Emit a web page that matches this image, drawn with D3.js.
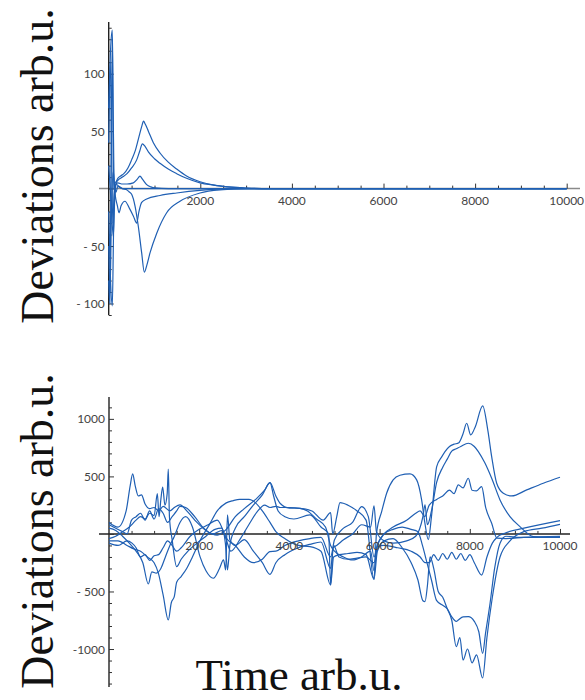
<!DOCTYPE html>
<html>
<head>
<meta charset="utf-8">
<script src="https://cdn.jsdelivr.net/npm/d3@7"></script>
<style>
  html, body { margin: 0; padding: 0; background: #fff; }
  svg { display: block; }
</style>
</head>
<body>
<svg id="chart" width="585" height="700"></svg>
<script>
// ---------------- DATA ----------------
const xMajorTicks = [2000, 4000, 6000, 8000, 10000];
const xTickLabels = ["2000", "4000", "6000", "8000", "10000"];
const topYMajor = [100, 50, -50, -100];
const topYLabels = ["100", "50", "- 50", "- 100"];
const bottomYMajor = [1000, 500, -500, -1000];
const bottomYLabels = ["1000", "500", "- 500", "-1000"];
const yAxisTitle = "Deviations arb.u.";
const xAxisTitle = "Time arb.u.";

// top panel series: [time, deviation]
const top1 = [[0,40],[40,120],[79,138],[100,60],[125,-5],[160,5],[200,9],[260,11],[330,13],[420,18],[500,25],[580,33],[660,45],[720,54],[760,58.7],[800,56],[866,50],[975,40],[1120,31],[1300,23],[1484,17],[1700,11],[1994,6],[2300,3],[2600,1.5],[3000,0.5],[3500,0],[10000,0]];
const top2 = [[0,-20],[40,-80],[79,-102],[105,-40],[130,5],[170,6],[220,8],[300,10],[400,13],[500,18],[611,25],[680,33],[735,39],[790,37],[866,32],[1000,26],[1120,22],[1300,17],[1484,13],[1700,9],[1994,5],[2300,3],[2600,1.5],[3000,0.5],[3500,0],[10000,0]];
const top3 = [[0,20],[50,-10],[100,-41.6],[130,-10],[160,4],[200,5],[300,4],[400,4],[538,5],[620,8],[683,10.8],[740,8],[829,3.5],[920,1.5],[1011,0.6],[1300,0],[10000,0]];
const top4 = [[0,70],[35,110],[60,40],[90,-30],[120,-5],[160,4],[220,2],[300,0],[392,-1],[450,-3],[501,-5],[574,-15],[647,-33],[720,-56],[778,-72.7],[830,-67],[902,-56],[1047,-39],[1266,-21],[1557,-11],[1994,-3.8],[2500,-0.9],[3000,0],[10000,0]];
const top5 = [[0,-50],[30,-90],[60,-20],[100,15],[140,-5],[190,-15],[225,-21],[270,-15],[356,-11],[450,-17],[540,-24],[611,-30],[660,-20],[720,-12],[829,-9],[1120,-6],[1484,-3.8],[1994,-1.5],[2500,-0.3],[3000,0],[10000,0]];
const top6 = [[0,-80],[25,-100],[50,20],[79,130],[95,40],[120,0],[160,-3],[200,2],[300,0],[10000,0]];

// bottom panel series: [time, deviation]
const bot1 = [[0,100],[200,60],[380,200],[470,420],[525,522],[580,420],[650,330],[720,340],[800,260],[900,220],[1000,230],[1100,200],[1200,240],[1350,200],[1450,230],[1574,252],[1750,190],[1950,100],[2150,30],[2400,-10],[2600,40],[2800,150],[3000,220],[3250,300],[3450,380],[3570,446],[3700,330],[3792,267],[4000,225],[4234,223],[4500,200],[4750,120],[4914,185],[4960,0],[5050,150],[5122,272],[5300,250],[5500,200],[5700,120],[5876,-394],[5930,0],[6050,200],[6156,354],[6300,470],[6451,510],[6674,522],[6822,470],[6932,296],[7005,93],[7080,-50],[7150,150],[7266,585],[7380,672],[7450,716],[7550,760],[7650,780],[7750,790],[7850,870],[7931,962],[8020,861],[8120,930],[8286,1113],[8400,900],[8485,672],[8596,441],[8743,354],[8929,330],[9262,383],[9630,441],[10000,493]];
const bot2 = [[0,-40],[150,-20],[300,20],[450,60],[600,120],[700,150],[800,130],[900,180],[1000,160],[1072,350],[1110,150],[1150,300],[1190,408],[1240,250],[1290,350],[1315,563],[1340,150],[1400,-50],[1500,-284],[1600,-220],[1750,-150],[1950,-80],[2150,-20],[2350,40],[2500,50],[2580,-80],[2627,-313],[2680,-100],[2800,50],[3000,150],[3200,250],[3400,340],[3570,446],[3650,330],[3750,200],[3900,150],[4100,130],[4457,165],[4700,60],[4870,0],[4914,-443],[4970,-120],[5047,-100],[5200,-50],[5400,0],[5603,80],[5800,60],[5876,244],[5930,20],[6100,-60],[6300,-80],[6600,-60],[6800,-20],[6960,150],[7007,252],[7060,80],[7150,200],[7266,450],[7400,580],[7500,650],[7600,720],[7700,740],[7800,760],[7967,788],[8100,760],[8189,716],[8330,620],[8485,484],[8670,296],[8891,150],[9112,64],[9408,-23],[9700,-30],[10000,-23]];
const bot3 = [[0,-60],[200,-60],[400,-100],[550,-130],[700,-150],[850,-200],[1000,-250],[1096,-342],[1200,-530],[1315,-748],[1380,-600],[1450,-540],[1500,-420],[1600,-370],[1722,-300],[1850,-200],[2017,-60],[2239,90],[2400,200],[2600,270],[2756,290],[2900,300],[3100,300],[3250,270],[3400,200],[3570,100],[3700,20],[3900,-40],[4200,-100],[4457,-110],[4700,-150],[4914,-443],[4980,-200],[5100,-180],[5300,-170],[5500,-160],[5700,-180],[5876,-394],[5950,-150],[6100,-60],[6300,-40],[6500,-120],[6700,-250],[6850,-400],[6960,-580],[7007,-588],[7060,-450],[7120,-200],[7200,-300],[7300,-500],[7400,-550],[7500,-650],[7600,-750],[7700,-980],[7780,-900],[7850,-1096],[7950,-1000],[8050,-1120],[8150,-1050],[8284,-1252],[8380,-900],[8500,-550],[8670,-200],[8891,-60],[9200,20],[9600,50],[10000,84]];
const bot4 = [[0,50],[150,30],[300,-20],[450,-80],[600,-150],[750,-250],[872,-435],[950,-330],[1050,-340],[1150,-300],[1250,-200],[1350,-100],[1450,-20],[1574,100],[1700,150],[1850,60],[2018,-197],[2150,-320],[2313,-385],[2450,-300],[2540,-226],[2587,-313],[2627,165],[2680,-50],[2800,-100],[3000,-50],[3200,-150],[3400,-250],[3570,-351],[3700,-250],[3900,-180],[4200,-120],[4457,-90],[4700,-70],[4914,-300],[4980,-100],[5100,-200],[5300,-220],[5500,-210],[5700,-200],[5876,-250],[5950,-100],[6100,0],[6300,40],[6500,60],[6700,40],[6850,20],[6950,-100],[7050,-250],[7150,-400],[7266,-580],[7400,-620],[7500,-650],[7600,-720],[7700,-760],[7745,-748],[7850,-720],[7967,-719],[8100,-760],[8200,-850],[8284,-1038],[8350,-860],[8450,-600],[8550,-300],[8670,-80],[8800,-20],[9100,-30],[10000,-30]];
const bot5 = [[0,80],[150,50],[300,20],[400,0],[500,120],[600,150],[700,180],[800,120],[900,200],[1000,130],[1100,220],[1200,180],[1300,100],[1400,150],[1500,200],[1574,240],[1700,230],[1900,150],[2100,50],[2300,0],[2500,30],[2627,-50],[2800,-100],[3000,-200],[3200,-250],[3400,-220],[3570,-153],[3700,-150],[3900,-100],[4200,-60],[4457,-40],[4700,-30],[4914,-200],[5000,-50],[5200,50],[5400,100],[5603,237],[5750,150],[5876,-200],[5950,-100],[6100,0],[6300,60],[6600,120],[6800,180],[6900,200],[7000,150],[7100,250],[7266,300],[7400,330],[7550,380],[7650,350],[7745,426],[7850,400],[7967,484],[8050,380],[8150,375],[8263,411],[8350,233],[8485,93],[8600,-36],[8800,-40],[9200,-30],[10000,-20]];
const bot6 = [[0,-80],[200,-100],[400,-60],[510,-80],[600,-120],[700,-200],[800,-180],[900,-230],[1000,-190],[1100,-180],[1200,-120],[1300,-60],[1400,-100],[1500,-150],[1600,-120],[1800,-20],[2000,40],[2200,80],[2400,120],[2600,-50],[2700,-150],[2900,-50],[3100,80],[3300,200],[3450,250],[3570,230],[3700,240],[3800,230],[4000,230],[4234,223],[4400,200],[4600,130],[4800,60],[4914,-100],[5000,-150],[5200,-200],[5400,-226],[5600,-200],[5800,-150],[5876,-320],[5950,-110],[6100,-100],[6400,-120],[6700,-150],[6900,-200],[7007,-250],[7100,-250],[7200,-180],[7300,-230],[7400,-170],[7500,-220],[7600,-160],[7700,-220],[7800,-170],[7900,-230],[8000,-180],[8100,-250],[8263,-357],[8380,-200],[8500,-80],[8600,-30],[8800,10],[9200,50],[10000,116]];

const topSeries = [top1, top2, top3, top4, top5, top6];
const bottomSeries = [bot1, bot2, bot3, bot4, bot5, bot6];

// ---------------- DRAW ----------------
const svg = d3.select("#chart");
const lineColor = "#1f5fb3";
const tickFont = "Lato, 'DejaVu Sans', sans-serif";

function panel(cfg) {
  const x = d3.scaleLinear().domain([0, 10000]).range(cfg.xRange);
  const y = d3.scaleLinear().domain(cfg.yDomain).range(cfg.yRange);
  const g = svg.append("g");

  g.append("line")
    .attr("x1", cfg.xLineStart).attr("x2", cfg.xLineEnd)
    .attr("y1", y(0)).attr("y2", y(0))
    .attr("stroke", cfg.axisColor).attr("stroke-width", 1.5);

  const xMinor = d3.range(500, 10001, 500).filter(v => v % 2000 !== 0);
  g.append("g").attr("transform", `translate(0,${y(0)})`)
    .call(d3.axisTop(x).tickValues(xMinor).tickSize(3).tickFormat(""))
    .call(s => s.select(".domain").remove())
    .selectAll("line").attr("stroke", "#333").attr("stroke-width", 1);
  g.append("g").attr("transform", `translate(0,${y(0)})`)
    .call(d3.axisTop(x).tickValues(xMajorTicks).tickSize(5).tickFormat(""))
    .call(s => s.select(".domain").remove())
    .selectAll("line").attr("stroke", "#333").attr("stroke-width", 1);

  g.append("line")
    .attr("x1", x(0)).attr("x2", x(0))
    .attr("y1", cfg.yRange[1]).attr("y2", cfg.yRange[0])
    .attr("stroke", "#222").attr("stroke-width", 1.4);

  g.append("g").attr("transform", `translate(${x(0)},0)`)
    .call(d3.axisRight(y).tickValues(cfg.yMinor).tickSize(3).tickFormat(""))
    .call(s => s.select(".domain").remove())
    .selectAll("line").attr("stroke", "#333").attr("stroke-width", 1);
  g.append("g").attr("transform", `translate(${x(0)},0)`)
    .call(d3.axisRight(y).tickValues(cfg.yMajor).tickSize(5).tickFormat(""))
    .call(s => s.select(".domain").remove())
    .selectAll("line").attr("stroke", "#333").attr("stroke-width", 1);

  const line = d3.line().x(d => x(d[0])).y(d => y(d[1])).curve(d3.curveMonotoneX);
  g.selectAll("path.series").data(cfg.series).enter().append("path")
    .attr("class", "series")
    .attr("d", line)
    .attr("fill", "none")
    .attr("stroke", lineColor)
    .attr("stroke-width", 1.2);

  g.selectAll("text.xl").data(xMajorTicks).enter().append("text")
    .attr("class", "xl")
    .attr("x", d => x(d)).attr("y", y(0) + 12)
    .attr("text-anchor", "middle").attr("dominant-baseline", "central")
    .attr("font-family", tickFont).attr("font-size", 12).attr("fill", "#444")
    .text((d, i) => xTickLabels[i]);
  g.selectAll("text.yl").data(cfg.yMajorLabeled).enter().append("text")
    .attr("class", "yl")
    .attr("x", x(0) - 4).attr("y", d => y(d))
    .attr("text-anchor", "end").attr("dominant-baseline", "central")
    .attr("font-family", tickFont).attr("font-size", 12).attr("fill", "#444")
    .text((d, i) => cfg.yLabels[i]);

  g.append("text")
    .attr("transform", `translate(53,${cfg.titleY}) rotate(-90)`)
    .attr("text-anchor", "middle")
    .attr("font-family", "'Liberation Serif', 'Times New Roman', serif")
    .attr("font-size", 46).attr("fill", "#111")
    .text(yAxisTitle);
}

panel({
  xRange: [108.7, 566.7],
  yDomain: [-110, 145], yRange: [315, 22],
  xLineStart: 99, xLineEnd: 580,
  axisColor: "#8a8a8a",
  yMinor: d3.range(-110, 141, 10).filter(v => v % 50 !== 0),
  yMajor: [-100, -50, 0, 50, 100],
  yMajorLabeled: topYMajor, yLabels: topYLabels,
  series: topSeries, titleY: 166
});

panel({
  xRange: [109, 560],
  yDomain: [-1330, 1190], yRange: [687, 397],
  xLineStart: 99, xLineEnd: 570,
  axisColor: "#222",
  yMinor: d3.range(-1300, 1101, 100).filter(v => v % 500 !== 0),
  yMajor: [-1000, -500, 0, 500, 1000],
  yMajorLabeled: bottomYMajor, yLabels: bottomYLabels,
  series: bottomSeries, titleY: 531
});

svg.append("text")
  .attr("x", 299).attr("y", 690)
  .attr("text-anchor", "middle")
  .attr("font-family", "'Liberation Serif', 'Times New Roman', serif")
  .attr("font-size", 45).attr("fill", "#111")
  .text(xAxisTitle);
</script>
</body>
</html>
